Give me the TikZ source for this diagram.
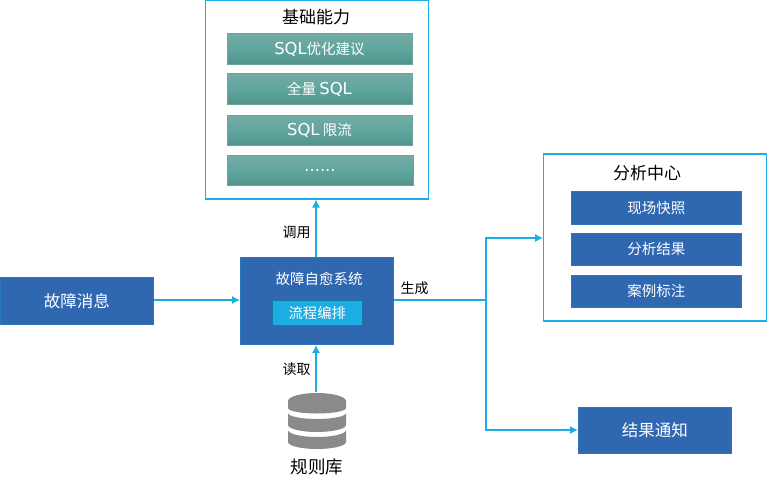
\documentclass[tikz,border=0pt]{standalone}
\usepackage{fontspec}
\setmainfont{Noto Sans CJK SC}
\newfontfamily\latf[Scale=1.13]{DejaVu Sans}
\usetikzlibrary{arrows.meta}
\definecolor{cy}{HTML}{1CADE4}
\definecolor{bl}{HTML}{2F67B1}
\definecolor{bledge}{HTML}{2A77BD}
\definecolor{tealT}{HTML}{74ABA5}
\definecolor{tealM}{HTML}{5FA69E}
\definecolor{tealB}{HTML}{52938B}
\definecolor{dbg}{HTML}{8A8A8A}
\tikzset{
  panel/.style={draw=cy,line width=1.5pt,fill=white,inner sep=0pt,outer sep=0pt},
  bluebox/.style={draw=bledge,line width=0.8pt,fill=bl,text=white,inner sep=0pt,outer sep=0pt,font=\fontsize{14.5}{16}\selectfont},
  tealbox/.style={draw=tealB!85!white,line width=0.8pt,top color=tealT,bottom color=tealB,middle color=tealM,text=white,inner sep=0pt,outer sep=0pt,font=\fontsize{14.5}{16}\selectfont},
  lbl/.style={text=black,inner sep=0pt,font=\fontsize{14}{16}\selectfont},
  conn/.style={draw=cy,line width=1.2pt,-{Latex[length=8pt,width=8pt]}},
  connplain/.style={draw=cy,line width=1.2pt}
}
\newcommand{\boxat}[6]{\node[#1,minimum width=#4pt-#2pt,minimum height=#5pt-#3pt,anchor=north west] (#6) at (#2,#3)}
\newcommand{\dbseg}[4]{\fill[dbg] (288,#1)
  .. controls (288,{#1+.55*(#2)}) and (301,{#1+(#2)}) .. (317,{#1+(#2)})
  .. controls (333,{#1+(#2)}) and (346,{#1+.55*(#2)}) .. (346,#1)
  -- (346,#3)
  .. controls (346,{#3+.55*(#4)}) and (333,{#3+(#4)}) .. (317,{#3+(#4)})
  .. controls (301,{#3+(#4)}) and (288,{#3+.55*(#4)}) .. (288,#3) -- cycle;}
\begin{document}
\begin{tikzpicture}[x=1pt,y=-1pt]
\useasboundingbox (0,0) rectangle (767,476);
% top panel
\boxat{panel}{205.5}{0.5}{428.5}{199}{basic} {};
\node[lbl,font=\fontsize{17}{19}\selectfont] (basicT) at (316,17) {基础能力};
\boxat{tealbox}{227}{33.5}{412}{64.5}{t1} {\raisebox{-1pt}{{\latf SQL}优化建议}};
\boxat{tealbox}{227}{73.5}{412}{104.5}{t2} {\raisebox{-1.5pt}{全量 {\latf SQL}}};
\boxat{tealbox}{227}{115.5}{412}{145.5}{t3} {\raisebox{-1pt}{{\latf SQL} 限流}};
\boxat{tealbox}{227}{155.5}{413}{185.5}{t4} {{\latf ......}};
% analysis panel
\boxat{panel}{543.5}{154}{766.5}{321}{ana} {};
\node[lbl,font=\fontsize{17}{19}\selectfont] (anaT) at (647,173) {分析中心};
\boxat{bluebox}{571}{191}{741.5}{224.5}{a1} {现场快照};
\boxat{bluebox}{571}{233}{741.5}{265.5}{a2} {分析结果};
\boxat{bluebox}{571}{275}{741.5}{307}{a3} {案例标注};
% main
\boxat{bluebox}{240}{257}{393.5}{344.5}{main} {};
\node[text=white,inner sep=0pt,font=\fontsize{14.5}{16}\selectfont] (mainT) at (319,278.5) {故障自愈系统};
\boxat{draw=cy!70!black,line width=0.8pt,fill=cy,text=white,inner sep=0pt,outer sep=0pt,font=\fontsize{14.3}{16}\selectfont}{272.5}{300.5}{362}{325}{flow} {流程编排};
% others
\boxat{bluebox,font=\fontsize{16.5}{18}\selectfont}{0}{277}{153.5}{324.5}{msg} {故障消息};
\boxat{bluebox,font=\fontsize{16.5}{18}\selectfont}{578}{407}{731.5}{453.5}{notice} {结果通知};
% database
\coordinate (dbtop) at (317,392);
\dbseg{401}{-8}{408}{5.5}
\dbseg{413}{6}{425}{7}
\dbseg{430}{7}{442}{7}
\node[lbl,font=\fontsize{17.5}{19}\selectfont] (dbT) at (317,467) {规则库};
% connectors
\coordinate (junc) at (486,300);
\coordinate (ana1) at (486,238);
\coordinate (anaIn) at (543,238);
\coordinate (not1) at (486,430);
\coordinate (mainUp) at (316,257);
\coordinate (basicIn) at (316,199.5);
\coordinate (mainDown) at (316,345);
\coordinate (msgOut) at (154,300);
\coordinate (mainL) at (240,300);
\coordinate (mainR) at (394,300);
\coordinate (notIn) at (578,430);
\draw[conn] (mainUp) -- (basicIn);
\draw[conn] (dbtop-|mainUp) -- (mainDown);
\draw[conn] (msgOut) -- (mainL);
\draw[connplain] (mainR) -- (junc);
\draw[conn] (junc) -- (ana1) -- (anaIn);
\draw[conn] (junc) -- (not1) -- (notIn);
\node[lbl] (l1) at (296.5,232) {调用};
\node[lbl] (l2) at (296.5,369) {读取};
\node[lbl] (l3) at (414.5,288) {生成};
\end{tikzpicture}
\end{document}
